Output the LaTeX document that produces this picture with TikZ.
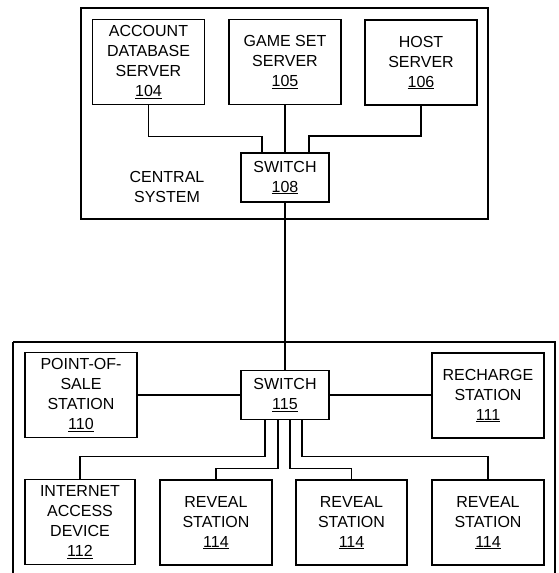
\documentclass[tikz,border=0pt]{standalone}
\usepackage{fontspec}
\setmainfont{Liberation Sans}

\begin{document}
\begin{tikzpicture}[
  x=1pt, y=-1pt,
  font=\fontsize{16}{20}\selectfont,
  box/.style={draw, line width=1.8pt, align=center, inner sep=0pt, minimum width=112pt, minimum height=85pt},
  switchbox/.style={draw, line width=1.8pt, align=center, inner sep=0pt, minimum width=88pt, minimum height=49pt},
  frame/.style={draw, line width=1.8pt},
  wire/.style={line width=1.8pt}
]
  \useasboundingbox (0,0) rectangle (559,573);

  % central system
  \draw[frame] (81,8) rectangle (488,219);
  \node[box] (acct) at (148.5,62) {ACCOUNT\\DATABASE\\SERVER\\\underline{104}};
  \node[box] (gameset) at (285,62) {GAME SET\\SERVER\\\underline{105}};
  \node[box] (host) at (421,62.5) {HOST\\SERVER\\\underline{106}};
  \node[switchbox] (sw108) at (285,177.5) {SWITCH\\\underline{108}};
  \node (central) at (167,187) [align=center] {CENTRAL\\SYSTEM};

  % stations
  \draw[frame] (13,342) -- (13,600) (13,342) -- (555,342) -- (555,600);
  \node[box] (pos) at (81,395) {POINT-OF-\\SALE\\STATION\\\underline{110}};
  \node[switchbox] (sw115) at (285,395) {SWITCH\\\underline{115}};
  \node[box] (recharge) at (488,395.5) {RECHARGE\\STATION\\\underline{111}};
  \node[box, minimum width=110pt] (inet) at (80,522) {INTERNET\\ACCESS\\DEVICE\\\underline{112}};
  \node[box] (rev1) at (216,522.5) {REVEAL\\STATION\\\underline{114}};
  \node[box, minimum width=111pt] (rev2) at (351.5,522.5) {REVEAL\\STATION\\\underline{114}};
  \node[box] (rev3) at (488,522.5) {REVEAL\\STATION\\\underline{114}};

  \draw[wire] (acct.south) -- ++(0,31) -| ([xshift=-23pt]sw108.north);
  \draw[wire] (gameset.south) -- (sw108.north);
  \draw[wire] (host.south) -- ++(0,30) -| ([xshift=24pt]sw108.north);
  \draw[wire] (sw108.south) -- (sw115.north);
  \draw[wire] (pos.east) -- (sw115.west);
  \draw[wire] (sw115.east) -- (sw115.east -| recharge.west);
  \draw[wire] ([xshift=-20pt]sw115.south) -- ++(0,36) -| (inet.north);
  \draw[wire] ([xshift=-7pt]sw115.south) -- ++(0,48) -| (rev1.north);
  \draw[wire] ([xshift=5pt]sw115.south) -- ++(0,48) -| (rev2.north);
  \draw[wire] ([xshift=17pt]sw115.south) -- ++(0,36) -| (rev3.north);
\end{tikzpicture}
\end{document}
